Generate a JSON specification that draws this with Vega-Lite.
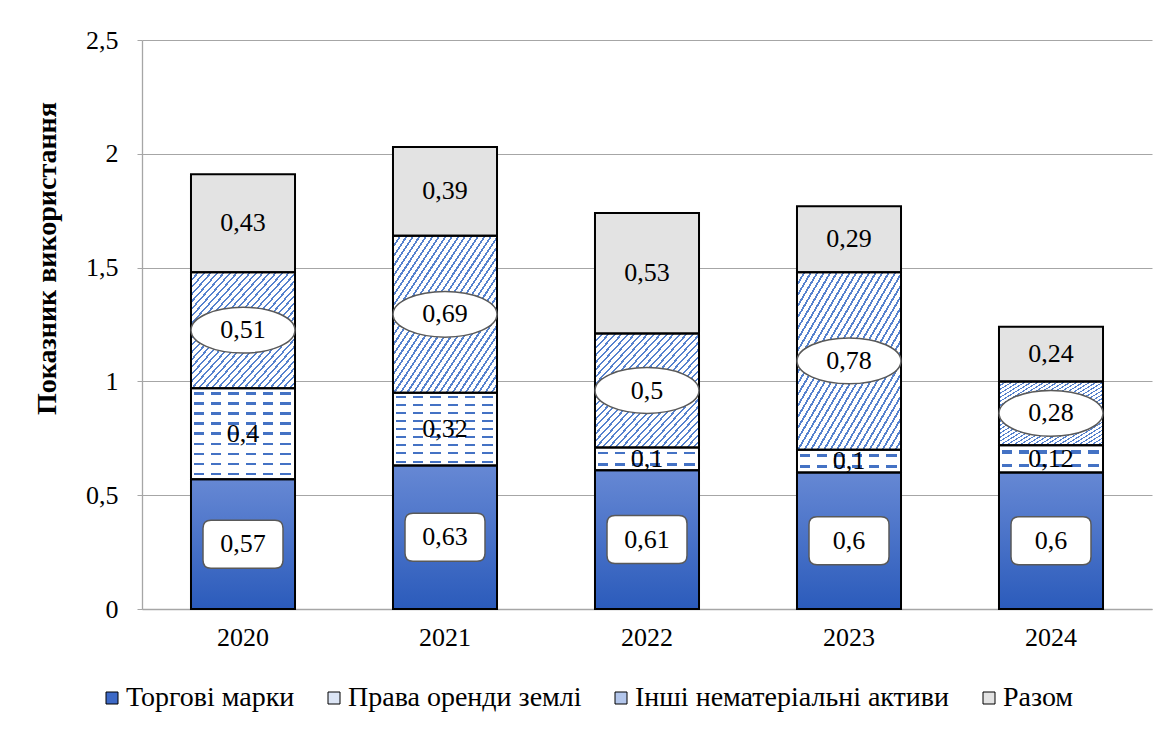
{
  "$schema": "https://vega.github.io/schema/vega-lite/v6.json",
  "width": 1010,
  "height": 569,
  "autosize": {"type": "none"},
  "padding": {"left": 142, "top": 40, "right": 16, "bottom": 120},
  "background": "#ffffff",
  "config": {
    "locale": {"number": {"decimal": ",", "thousands": " ", "grouping": [3], "currency": ["", ""]}},
    "view": {"stroke": null},
    "font": "Liberation Serif",
    "legend": {"labelFont": "Liberation Serif", "labelLimit": 500}
  },
  "data": {
    "values": [
      {"year": "2020", "series": "Торгові марки", "k": 1, "value": 0.57},
      {"year": "2020", "series": "Права оренди землі", "k": 2, "value": 0.4},
      {"year": "2020", "series": "Інші нематеріальні активи", "k": 3, "value": 0.51},
      {"year": "2020", "series": "Разом", "k": 4, "value": 0.43},
      {"year": "2021", "series": "Торгові марки", "k": 1, "value": 0.63},
      {"year": "2021", "series": "Права оренди землі", "k": 2, "value": 0.32},
      {"year": "2021", "series": "Інші нематеріальні активи", "k": 3, "value": 0.69},
      {"year": "2021", "series": "Разом", "k": 4, "value": 0.39},
      {"year": "2022", "series": "Торгові марки", "k": 1, "value": 0.61},
      {"year": "2022", "series": "Права оренди землі", "k": 2, "value": 0.1},
      {"year": "2022", "series": "Інші нематеріальні активи", "k": 3, "value": 0.5},
      {"year": "2022", "series": "Разом", "k": 4, "value": 0.53},
      {"year": "2023", "series": "Торгові марки", "k": 1, "value": 0.6},
      {"year": "2023", "series": "Права оренди землі", "k": 2, "value": 0.1},
      {"year": "2023", "series": "Інші нематеріальні активи", "k": 3, "value": 0.78},
      {"year": "2023", "series": "Разом", "k": 4, "value": 0.29},
      {"year": "2024", "series": "Торгові марки", "k": 1, "value": 0.6},
      {"year": "2024", "series": "Права оренди землі", "k": 2, "value": 0.12},
      {"year": "2024", "series": "Інші нематеріальні активи", "k": 3, "value": 0.28},
      {"year": "2024", "series": "Разом", "k": 4, "value": 0.24}
    ]
  },
  "encoding": {
    "x": {
      "field": "year", "type": "ordinal",
      "scale": {"paddingInner": 0.485, "paddingOuter": 0.2425},
      "axis": {"title": null, "labelAngle": 0, "labelFont": "Liberation Serif", "labelFontSize": 26, "labelColor": "#000000", "labelPadding": 15, "ticks": false, "domainColor": "#A6A6A6", "domainWidth": 1.3}
    },
    "y": {
      "field": "value", "type": "quantitative", "stack": "zero",
      "scale": {"domain": [0, 2.5], "nice": false},
      "axis": {
        "title": "Показник використання", "titleFont": "Liberation Serif", "titleFontSize": 28, "titleFontWeight": "bold", "titleColor": "#000000",
        "titleAngle": -90, "titleX": -95, "titleY": 218, "titleAlign": "center", "titleBaseline": "middle",
        "values": [0, 0.5, 1, 1.5, 2, 2.5], "format": ".1~f",
        "labelFont": "Liberation Serif", "labelFontSize": 26, "labelColor": "#000000", "labelPadding": 19,
        "tickSize": 5, "tickColor": "#A6A6A6", "domainColor": "#A6A6A6", "domainWidth": 1.3, "gridColor": "#A6A6A6", "gridWidth": 1
      }
    },
    "order": {"field": "k", "type": "quantitative"},
    "detail": {"field": "series"}
  },
  "layer": [
    {
      "mark": {"type": "bar", "strokeWidth": 0},
      "encoding": {
        "fill": {
          "field": "series", "type": "nominal",
          "scale": {
            "domain": ["Торгові марки", "Права оренди землі", "Інші нематеріальні активи", "Разом"],
            "range": ["#3D69C6", "#DCE5F5", "#B3C6EB", "#E3E3E3"]
          },
          "legend": {
            "orient": "none", "legendX": -44, "legendY": 644, "direction": "horizontal", "columns": 4, "title": null,
            "symbolType": "square", "symbolSize": 144, "symbolStrokeColor": "#000000", "symbolStrokeWidth": 1,
            "labelFont": "Liberation Serif", "labelFontSize": 28, "labelLimit": 500, "labelColor": "#000000", "columnPadding": 25, "labelOffset": 0
          },
          "condition": [
            {"test": "datum.series === 'Торгові марки'", "value": {"gradient": "linear", "x1": 0, "y1": 0, "x2": 0, "y2": 1, "stops": [{"offset": 0, "color": "#6688D4"}, {"offset": 1, "color": "#2B5BBB"}]}},
            {"test": "datum.series === 'Права оренди землі' && datum.value > 0.2", "value": {"gradient": "linear", "x1": 0, "y1": 0, "x2": 0, "y2": 1, "stops": [
              {"offset": 0, "color": "#ffffff"},
              {"offset": 0.0417, "color": "#ffffff"}, {"offset": 0.0417, "color": "#4472C4"}, {"offset": 0.0694, "color": "#4472C4"}, {"offset": 0.0694, "color": "#ffffff"},
              {"offset": 0.1528, "color": "#ffffff"}, {"offset": 0.1528, "color": "#4472C4"}, {"offset": 0.1806, "color": "#4472C4"}, {"offset": 0.1806, "color": "#ffffff"},
              {"offset": 0.2639, "color": "#ffffff"}, {"offset": 0.2639, "color": "#4472C4"}, {"offset": 0.2917, "color": "#4472C4"}, {"offset": 0.2917, "color": "#ffffff"},
              {"offset": 0.375, "color": "#ffffff"}, {"offset": 0.375, "color": "#4472C4"}, {"offset": 0.4028, "color": "#4472C4"}, {"offset": 0.4028, "color": "#ffffff"},
              {"offset": 0.4861, "color": "#ffffff"}, {"offset": 0.4861, "color": "#4472C4"}, {"offset": 0.5139, "color": "#4472C4"}, {"offset": 0.5139, "color": "#ffffff"},
              {"offset": 0.5972, "color": "#ffffff"}, {"offset": 0.5972, "color": "#4472C4"}, {"offset": 0.625, "color": "#4472C4"}, {"offset": 0.625, "color": "#ffffff"},
              {"offset": 0.7083, "color": "#ffffff"}, {"offset": 0.7083, "color": "#4472C4"}, {"offset": 0.7361, "color": "#4472C4"}, {"offset": 0.7361, "color": "#ffffff"},
              {"offset": 0.8194, "color": "#ffffff"}, {"offset": 0.8194, "color": "#4472C4"}, {"offset": 0.8472, "color": "#4472C4"}, {"offset": 0.8472, "color": "#ffffff"},
              {"offset": 0.9306, "color": "#ffffff"}, {"offset": 0.9306, "color": "#4472C4"}, {"offset": 0.9583, "color": "#4472C4"}, {"offset": 0.9583, "color": "#ffffff"},
              {"offset": 1, "color": "#ffffff"}
            ]}},
            {"test": "datum.series === 'Права оренди землі'", "value": {"gradient": "linear", "x1": 0, "y1": 0, "x2": 0, "y2": 1, "stops": [
              {"offset": 0, "color": "#ffffff"},
              {"offset": 0.19, "color": "#ffffff"}, {"offset": 0.19, "color": "#4472C4"}, {"offset": 0.31, "color": "#4472C4"}, {"offset": 0.31, "color": "#ffffff"},
              {"offset": 0.69, "color": "#ffffff"}, {"offset": 0.69, "color": "#4472C4"}, {"offset": 0.81, "color": "#4472C4"}, {"offset": 0.81, "color": "#ffffff"},
              {"offset": 1, "color": "#ffffff"}
            ]}},
            {"test": "datum.series === 'Інші нематеріальні активи'", "value": {"gradient": "linear", "x1": 0, "y1": 0, "x2": 1, "y2": 1, "stops": [
              {"offset": 0, "color": "#5682CE"}, {"offset": 0.01, "color": "#5682CE"}, {"offset": 0.01, "color": "#ffffff"},
              {"offset": 0.03125, "color": "#ffffff"}, {"offset": 0.03125, "color": "#5682CE"}, {"offset": 0.04125, "color": "#5682CE"}, {"offset": 0.04125, "color": "#ffffff"},
              {"offset": 0.0625, "color": "#ffffff"}, {"offset": 0.0625, "color": "#5682CE"}, {"offset": 0.0725, "color": "#5682CE"}, {"offset": 0.0725, "color": "#ffffff"},
              {"offset": 0.09375, "color": "#ffffff"}, {"offset": 0.09375, "color": "#5682CE"}, {"offset": 0.10375, "color": "#5682CE"}, {"offset": 0.10375, "color": "#ffffff"},
              {"offset": 0.125, "color": "#ffffff"}, {"offset": 0.125, "color": "#5682CE"}, {"offset": 0.135, "color": "#5682CE"}, {"offset": 0.135, "color": "#ffffff"},
              {"offset": 0.15625, "color": "#ffffff"}, {"offset": 0.15625, "color": "#5682CE"}, {"offset": 0.16625, "color": "#5682CE"}, {"offset": 0.16625, "color": "#ffffff"},
              {"offset": 0.1875, "color": "#ffffff"}, {"offset": 0.1875, "color": "#5682CE"}, {"offset": 0.1975, "color": "#5682CE"}, {"offset": 0.1975, "color": "#ffffff"},
              {"offset": 0.21875, "color": "#ffffff"}, {"offset": 0.21875, "color": "#5682CE"}, {"offset": 0.22875, "color": "#5682CE"}, {"offset": 0.22875, "color": "#ffffff"},
              {"offset": 0.25, "color": "#ffffff"}, {"offset": 0.25, "color": "#5682CE"}, {"offset": 0.26, "color": "#5682CE"}, {"offset": 0.26, "color": "#ffffff"},
              {"offset": 0.28125, "color": "#ffffff"}, {"offset": 0.28125, "color": "#5682CE"}, {"offset": 0.29125, "color": "#5682CE"}, {"offset": 0.29125, "color": "#ffffff"},
              {"offset": 0.3125, "color": "#ffffff"}, {"offset": 0.3125, "color": "#5682CE"}, {"offset": 0.3225, "color": "#5682CE"}, {"offset": 0.3225, "color": "#ffffff"},
              {"offset": 0.34375, "color": "#ffffff"}, {"offset": 0.34375, "color": "#5682CE"}, {"offset": 0.35375, "color": "#5682CE"}, {"offset": 0.35375, "color": "#ffffff"},
              {"offset": 0.375, "color": "#ffffff"}, {"offset": 0.375, "color": "#5682CE"}, {"offset": 0.385, "color": "#5682CE"}, {"offset": 0.385, "color": "#ffffff"},
              {"offset": 0.40625, "color": "#ffffff"}, {"offset": 0.40625, "color": "#5682CE"}, {"offset": 0.41625, "color": "#5682CE"}, {"offset": 0.41625, "color": "#ffffff"},
              {"offset": 0.4375, "color": "#ffffff"}, {"offset": 0.4375, "color": "#5682CE"}, {"offset": 0.4475, "color": "#5682CE"}, {"offset": 0.4475, "color": "#ffffff"},
              {"offset": 0.46875, "color": "#ffffff"}, {"offset": 0.46875, "color": "#5682CE"}, {"offset": 0.47875, "color": "#5682CE"}, {"offset": 0.47875, "color": "#ffffff"},
              {"offset": 0.5, "color": "#ffffff"}, {"offset": 0.5, "color": "#5682CE"}, {"offset": 0.51, "color": "#5682CE"}, {"offset": 0.51, "color": "#ffffff"},
              {"offset": 0.53125, "color": "#ffffff"}, {"offset": 0.53125, "color": "#5682CE"}, {"offset": 0.54125, "color": "#5682CE"}, {"offset": 0.54125, "color": "#ffffff"},
              {"offset": 0.5625, "color": "#ffffff"}, {"offset": 0.5625, "color": "#5682CE"}, {"offset": 0.5725, "color": "#5682CE"}, {"offset": 0.5725, "color": "#ffffff"},
              {"offset": 0.59375, "color": "#ffffff"}, {"offset": 0.59375, "color": "#5682CE"}, {"offset": 0.60375, "color": "#5682CE"}, {"offset": 0.60375, "color": "#ffffff"},
              {"offset": 0.625, "color": "#ffffff"}, {"offset": 0.625, "color": "#5682CE"}, {"offset": 0.635, "color": "#5682CE"}, {"offset": 0.635, "color": "#ffffff"},
              {"offset": 0.65625, "color": "#ffffff"}, {"offset": 0.65625, "color": "#5682CE"}, {"offset": 0.66625, "color": "#5682CE"}, {"offset": 0.66625, "color": "#ffffff"},
              {"offset": 0.6875, "color": "#ffffff"}, {"offset": 0.6875, "color": "#5682CE"}, {"offset": 0.6975, "color": "#5682CE"}, {"offset": 0.6975, "color": "#ffffff"},
              {"offset": 0.71875, "color": "#ffffff"}, {"offset": 0.71875, "color": "#5682CE"}, {"offset": 0.72875, "color": "#5682CE"}, {"offset": 0.72875, "color": "#ffffff"},
              {"offset": 0.75, "color": "#ffffff"}, {"offset": 0.75, "color": "#5682CE"}, {"offset": 0.76, "color": "#5682CE"}, {"offset": 0.76, "color": "#ffffff"},
              {"offset": 0.78125, "color": "#ffffff"}, {"offset": 0.78125, "color": "#5682CE"}, {"offset": 0.79125, "color": "#5682CE"}, {"offset": 0.79125, "color": "#ffffff"},
              {"offset": 0.8125, "color": "#ffffff"}, {"offset": 0.8125, "color": "#5682CE"}, {"offset": 0.8225, "color": "#5682CE"}, {"offset": 0.8225, "color": "#ffffff"},
              {"offset": 0.84375, "color": "#ffffff"}, {"offset": 0.84375, "color": "#5682CE"}, {"offset": 0.85375, "color": "#5682CE"}, {"offset": 0.85375, "color": "#ffffff"},
              {"offset": 0.875, "color": "#ffffff"}, {"offset": 0.875, "color": "#5682CE"}, {"offset": 0.885, "color": "#5682CE"}, {"offset": 0.885, "color": "#ffffff"},
              {"offset": 0.90625, "color": "#ffffff"}, {"offset": 0.90625, "color": "#5682CE"}, {"offset": 0.91625, "color": "#5682CE"}, {"offset": 0.91625, "color": "#ffffff"},
              {"offset": 0.9375, "color": "#ffffff"}, {"offset": 0.9375, "color": "#5682CE"}, {"offset": 0.9475, "color": "#5682CE"}, {"offset": 0.9475, "color": "#ffffff"},
              {"offset": 0.96875, "color": "#ffffff"}, {"offset": 0.96875, "color": "#5682CE"}, {"offset": 0.97875, "color": "#5682CE"}, {"offset": 0.97875, "color": "#ffffff"},
              {"offset": 1, "color": "#ffffff"}
            ]}}
          ]
        }
      }
    },
    {
      "mark": {"type": "bar", "strokeWidth": 0},
      "encoding": {
        "fill": {
          "condition": {"test": "datum.series === 'Права оренди землі'", "value": {"gradient": "linear", "x1": 0, "y1": 0, "x2": 1, "y2": 0, "stops": [
            {"offset": 0, "color": "#ffffff"}, {"offset": 0.025, "color": "#ffffff"}, {"offset": 0.025, "color": "rgba(255,255,255,0)"}, {"offset": 0.125, "color": "rgba(255,255,255,0)"}, {"offset": 0.125, "color": "#ffffff"},
            {"offset": 0.1917, "color": "#ffffff"}, {"offset": 0.1917, "color": "rgba(255,255,255,0)"}, {"offset": 0.2917, "color": "rgba(255,255,255,0)"}, {"offset": 0.2917, "color": "#ffffff"},
            {"offset": 0.3583, "color": "#ffffff"}, {"offset": 0.3583, "color": "rgba(255,255,255,0)"}, {"offset": 0.4583, "color": "rgba(255,255,255,0)"}, {"offset": 0.4583, "color": "#ffffff"},
            {"offset": 0.525, "color": "#ffffff"}, {"offset": 0.525, "color": "rgba(255,255,255,0)"}, {"offset": 0.625, "color": "rgba(255,255,255,0)"}, {"offset": 0.625, "color": "#ffffff"},
            {"offset": 0.6917, "color": "#ffffff"}, {"offset": 0.6917, "color": "rgba(255,255,255,0)"}, {"offset": 0.7917, "color": "rgba(255,255,255,0)"}, {"offset": 0.7917, "color": "#ffffff"},
            {"offset": 0.8583, "color": "#ffffff"}, {"offset": 0.8583, "color": "rgba(255,255,255,0)"}, {"offset": 0.9583, "color": "rgba(255,255,255,0)"}, {"offset": 0.9583, "color": "#ffffff"},
            {"offset": 1, "color": "#ffffff"}
          ]}},
          "value": "transparent"
        }
      }
    },
    {
      "mark": {"type": "bar", "fill": "transparent", "stroke": "#000000", "strokeWidth": 2}
    },
    {
      "mark": {"type": "point", "shape": "M-1,0A1,0.44,0,1,1,1,0A1,0.44,0,1,1,-1,0Z", "size": 10816, "filled": true, "fill": "#ffffff", "stroke": "#595959", "strokeWidth": 1.5},
      "encoding": {
        "y": {
          "field": "value", "type": "quantitative", "stack": "zero", "bandPosition": 0.5, "scale": {"domain": [0, 2.5], "nice": false},
          "axis": {
            "title": "Показник використання", "titleFont": "Liberation Serif", "titleFontSize": 28, "titleFontWeight": "bold", "titleColor": "#000000",
            "titleAngle": -90, "titleX": -95, "titleY": 218, "titleAlign": "center", "titleBaseline": "middle",
            "values": [0, 0.5, 1, 1.5, 2, 2.5], "format": ".1~f",
            "labelFont": "Liberation Serif", "labelFontSize": 26, "labelColor": "#000000", "labelPadding": 19,
            "tickSize": 5, "tickColor": "#A6A6A6", "domainColor": "#A6A6A6", "domainWidth": 1.3, "gridColor": "#A6A6A6", "gridWidth": 1
          }
        },
        "opacity": {"condition": {"test": "datum.series === 'Інші нематеріальні активи'", "value": 1}, "value": 0}
      }
    },
    {
      "mark": {"type": "point", "shape": "M-0.8,-0.6L0.8,-0.6Q1,-0.6,1,-0.4L1,0.4Q1,0.6,0.8,0.6L-0.8,0.6Q-1,0.6,-1,0.4L-1,-0.4Q-1,-0.6,-0.8,-0.6Z", "size": 6400, "filled": true, "fill": "#ffffff", "stroke": "#595959", "strokeWidth": 1.5},
      "encoding": {
        "y": {
          "field": "value", "type": "quantitative", "stack": "zero", "bandPosition": 0.5, "scale": {"domain": [0, 2.5], "nice": false},
          "axis": {
            "title": "Показник використання", "titleFont": "Liberation Serif", "titleFontSize": 28, "titleFontWeight": "bold", "titleColor": "#000000",
            "titleAngle": -90, "titleX": -95, "titleY": 218, "titleAlign": "center", "titleBaseline": "middle",
            "values": [0, 0.5, 1, 1.5, 2, 2.5], "format": ".1~f",
            "labelFont": "Liberation Serif", "labelFontSize": 26, "labelColor": "#000000", "labelPadding": 19,
            "tickSize": 5, "tickColor": "#A6A6A6", "domainColor": "#A6A6A6", "domainWidth": 1.3, "gridColor": "#A6A6A6", "gridWidth": 1
          }
        },
        "opacity": {"condition": {"test": "datum.series === 'Торгові марки'", "value": 1}, "value": 0}
      }
    },
    {
      "mark": {"type": "text", "font": "Liberation Serif", "fontSize": 26, "color": "#000000", "align": "center", "baseline": "middle"},
      "encoding": {
        "y": {
          "field": "value", "type": "quantitative", "stack": "zero", "bandPosition": 0.5, "scale": {"domain": [0, 2.5], "nice": false},
          "axis": {
            "title": "Показник використання", "titleFont": "Liberation Serif", "titleFontSize": 28, "titleFontWeight": "bold", "titleColor": "#000000",
            "titleAngle": -90, "titleX": -95, "titleY": 218, "titleAlign": "center", "titleBaseline": "middle",
            "values": [0, 0.5, 1, 1.5, 2, 2.5], "format": ".1~f",
            "labelFont": "Liberation Serif", "labelFontSize": 26, "labelColor": "#000000", "labelPadding": 19,
            "tickSize": 5, "tickColor": "#A6A6A6", "domainColor": "#A6A6A6", "domainWidth": 1.3, "gridColor": "#A6A6A6", "gridWidth": 1
          }
        },
        "text": {"field": "value", "type": "quantitative", "format": ".2~f"}
      }
    }
  ]
}
